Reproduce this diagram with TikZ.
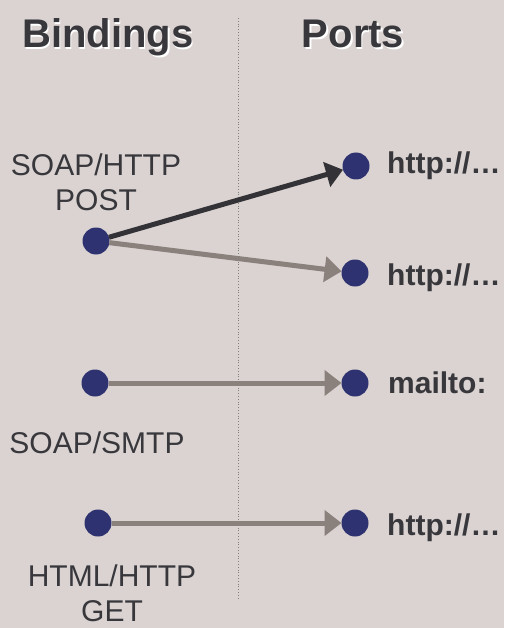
\documentclass[tikz,border=0pt]{standalone}
\usepackage{fontspec}
\setmainfont{Liberation Sans}
\usetikzlibrary{arrows.meta}
\definecolor{bg}{HTML}{DAD3D1}
\definecolor{navy}{HTML}{2F3270}
\definecolor{darkarr}{HTML}{333236}
\definecolor{grayarr}{HTML}{8A807C}
\definecolor{txt}{HTML}{38373C}
\begin{document}
\begin{tikzpicture}[x=1pt,y=-1pt,
  dot/.style={circle,fill=navy,draw=none,minimum size=27pt,inner sep=0pt,outer sep=0pt},
  heading/.style={font=\fontsize{40}{44}\selectfont\bfseries,text=txt,anchor=base,inner sep=0pt},
  shadow/.style={font=\fontsize{40}{44}\selectfont\bfseries,text=white,anchor=base,inner sep=0pt},
  blabel/.style={font=\fontsize{30}{35}\selectfont,text=txt,align=center,anchor=base,inner sep=0pt},
  plabel/.style={font=\fontsize{30}{36}\selectfont\bfseries,text=txt,anchor=base west,inner sep=0pt},
  conn/.style={line width=5pt,-{Triangle[length=17pt,width=25pt]}},
  darkconn/.style={conn,draw=darkarr},
  grayconn/.style={conn,draw=grayarr},
  divider/.style={draw=gray,dotted,line width=0.8pt}]
\fill[bg] (0,0) rectangle (504,628);
\useasboundingbox (0,0) rectangle (504,628);
% divider
\coordinate (dtop) at (238,18);
\coordinate (dbot) at (238,600);
\draw[divider] (dtop) -- (dbot);
% headings
\node[shadow] (hbs) at (109.5,49.5) {Bindings};
\node[heading] (hb) at (108,48) {Bindings};
\node[shadow] (hps) at (354.5,49.5) {Ports};
\node[heading] (hp) at (353,48) {Ports};
% binding labels
\node[blabel] (l1) at (96,211) {SOAP/HTTP\\POST};
\node[blabel] (l2) at (97,453) {SOAP/SMTP};
\node[blabel] (l3) at (112,621) {HTML/HTTP\\GET};
% dots
\node[dot] (b1) at (96,241) {};
\node[dot] (b2) at (95,383) {};
\node[dot] (b3) at (98,523) {};
\node[dot] (p1) at (356,166) {};
\node[dot] (p2) at (355,273) {};
\node[dot] (p3) at (355,383) {};
\node[dot] (p4) at (355,523) {};
% port labels
\node[plabel] (t1) at (387,174) {http://…};
\node[plabel] (t2) at (387,285) {http://…};
\node[plabel] (t3) at (388,393) {mailto:};
\node[plabel] (t4) at (387,535) {http://…};
% connectors
\draw[darkconn] (b1) -- (p1);
\draw[grayconn] (b1) -- (p2);
\draw[grayconn] (b2) -- (p3);
\draw[grayconn] (b3) -- (p4);
\end{tikzpicture}
\end{document}
